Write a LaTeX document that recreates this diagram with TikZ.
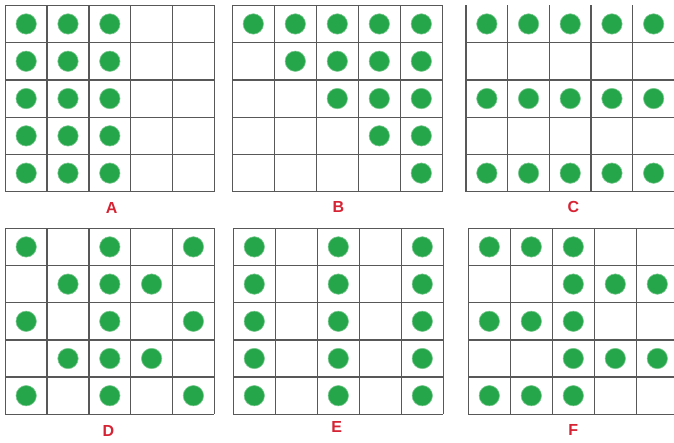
\documentclass[tikz,border=0pt]{standalone}
\usepackage{fontspec}
\setmainfont{Liberation Sans}
\definecolor{dotgreen}{RGB}{38,166,74}
\definecolor{gridgray}{RGB}{88,88,88}
\definecolor{labelred}{RGB}{214,36,52}
\tikzset{
  gridline/.style={draw=gridgray, line width=1.3pt},
  dotstyle/.style={fill=dotgreen, draw=dotgreen!60!white, line width=0.6pt},
  letter/.style={text=labelred, font=\fontsize{16}{18}\selectfont\bfseries, inner sep=0pt}
}
% #1 x0, #2 y0, #3 cell width, #4 cell height, #5 list of col/row dots, #6 1 = draw top line
\newcommand{\dotgrid}[6]{%
  \foreach \i in {0,...,5}{%
    \draw[gridline] ({#1+\i*#3},{#2}) -- ({#1+\i*#3},{#2+5*#4});
  }
  \foreach \j in {#6,...,5}{%
    \draw[gridline] ({#1},{#2+\j*#4}) -- ({#1+5*#3},{#2+\j*#4});
  }
  \foreach \c/\r in {#5}{%
    \fill[dotstyle] ({#1+(\c-0.5)*#3},{#2+(\r-0.5)*#4}) circle (10.2);
  }
}
\begin{document}
\begin{tikzpicture}[x=1pt,y=-1pt]
\useasboundingbox (0,0) rectangle (674,442);
\clip (0,0) rectangle (674,442);
\fill[white] (0,0) rectangle (674,442);
% A
\dotgrid{5.3}{5.3}{41.8}{37.3}{1/1,2/1,3/1,1/2,2/2,3/2,1/3,2/3,3/3,1/4,2/4,3/4,1/5,2/5,3/5}{0}
% B
\dotgrid{232.3}{5.3}{42}{37.3}{1/1,2/1,3/1,4/1,5/1,2/2,3/2,4/2,5/2,3/3,4/3,5/3,4/4,5/4,5/5}{0}
% C
\dotgrid{466}{5.3}{41.7}{37.3}{1/1,2/1,3/1,4/1,5/1,1/3,2/3,3/3,4/3,5/3,1/5,2/5,3/5,4/5,5/5}{1}
% D
\dotgrid{5.3}{228.3}{41.8}{37.2}{1/1,3/1,5/1,2/2,3/2,4/2,1/3,3/3,5/3,2/4,3/4,4/4,1/5,3/5,5/5}{0}
% E
\dotgrid{233.3}{228.3}{42}{37.2}{1/1,3/1,5/1,1/2,3/2,5/2,1/3,3/3,5/3,1/4,3/4,5/4,1/5,3/5,5/5}{0}
% F
\dotgrid{468.3}{228.3}{42}{37.2}{1/1,2/1,3/1,3/2,4/2,5/2,1/3,2/3,3/3,3/4,4/4,5/4,1/5,2/5,3/5}{0}
% labels
\node[letter] (la) at (111.7,208.3) {A};
\node[letter] (lb) at (338.3,206.5) {B};
\node[letter] (lc) at (573.3,207) {C};
\node[letter] (ld) at (108.3,431) {D};
\node[letter] (le) at (336.7,426.5) {E};
\node[letter] (lf) at (573.3,430) {F};
\end{tikzpicture}
\end{document}
